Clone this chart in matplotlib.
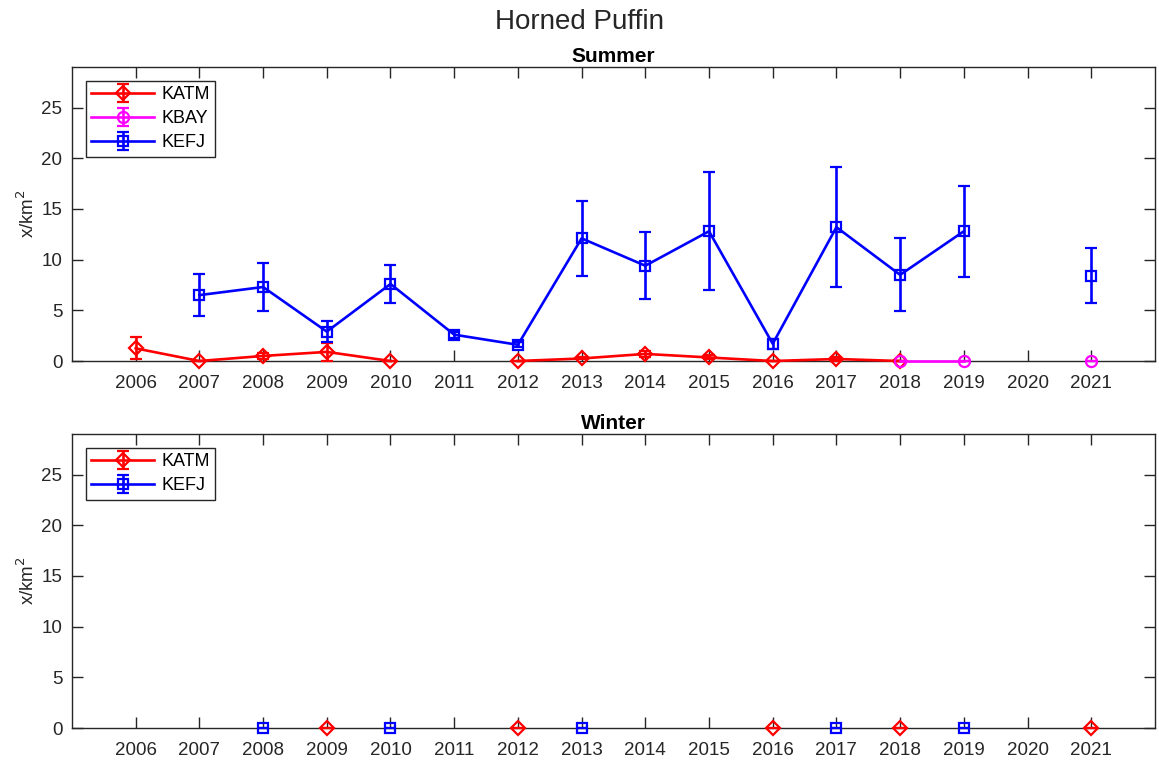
import numpy as np
import matplotlib
matplotlib.use("Agg")
import matplotlib.pyplot as plt

plt.rcParams['font.family'] = ['Liberation Sans', 'DejaVu Sans']

years = list(range(2006, 2022))
nan = np.nan

# Summer densities (birds per km^2) and standard errors
summer_katm = [1.25, 0.0, 0.5, 0.9, 0.0, nan, 0.0, 0.25, 0.7, 0.35, 0.0, 0.2, 0.0, nan, nan, nan]
summer_katm_err = [1.1, 0.0, 0.3, 0.85, 0.0, nan, 0.0, 0.1, 0.3, 0.2, 0.0, 0.15, 0.0, nan, nan, nan]
summer_kbay = [nan, nan, nan, nan, nan, nan, nan, nan, nan, nan, nan, nan, 0.0, 0.0, nan, 0.0]
summer_kbay_err = [nan, nan, nan, nan, nan, nan, nan, nan, nan, nan, nan, nan, 0.0, 0.0, nan, 0.0]
summer_kefj = [nan, 6.5, 7.3, 2.9, 7.6, 2.6, 1.6, 12.1, 9.4, 12.8, 1.7, 13.2, 8.5, 12.8, nan, 8.4]
summer_kefj_err = [nan, 2.05, 2.35, 1.0, 1.9, 0.3, 0.25, 3.7, 3.3, 5.8, 0.5, 5.9, 3.6, 4.5, nan, 2.7]

# Winter densities
winter_katm = [nan, nan, nan, 0.0, nan, nan, 0.0, nan, nan, nan, 0.0, nan, 0.0, nan, nan, 0.0]
winter_katm_err = [nan, nan, nan, 0.0, nan, nan, 0.0, nan, nan, nan, 0.0, nan, 0.0, nan, nan, 0.0]
winter_kefj = [nan, nan, 0.0, nan, 0.0, nan, nan, 0.0, nan, nan, nan, 0.0, nan, 0.0, nan, nan]
winter_kefj_err = [nan, nan, 0.0, nan, 0.0, nan, nan, 0.0, nan, nan, nan, 0.0, nan, 0.0, nan, nan]

styles = {
    'KATM': dict(color='#ff0000', marker='D', ms=7.5),
    'KBAY': dict(color='#ff00ff', marker='o', ms=8),
    'KEFJ': dict(color='#0000ff', marker='s', ms=7),
}

axis_gray = '#262626'

fig = plt.figure(figsize=(11.59, 7.66), dpi=100)
ax1 = fig.add_axes([0.0621, 0.5287, 0.9344, 0.3838])
ax2 = fig.add_axes([0.0621, 0.0496, 0.9344, 0.3838])


def draw(ax, name, vals, errs):
    st = styles[name]
    ax.errorbar(years, vals, yerr=errs, color=st['color'], lw=1.9,
                marker=st['marker'], ms=st['ms'], mfc='none', mec=st['color'],
                mew=1.6, elinewidth=1.9, capsize=4.5, capthick=1.9,
                label=name, clip_on=False, zorder=3)


draw(ax1, 'KATM', summer_katm, summer_katm_err)
draw(ax1, 'KBAY', summer_kbay, summer_kbay_err)
draw(ax1, 'KEFJ', summer_kefj, summer_kefj_err)

draw(ax2, 'KATM', winter_katm, winter_katm_err)
draw(ax2, 'KEFJ', winter_kefj, winter_kefj_err)

for ax, title in [(ax1, 'Summer'), (ax2, 'Winter')]:
    ax.set_xlim(2005, 2022)
    ax.set_ylim(0, 29)
    ax.set_xticks(years)
    ax.set_xticklabels([str(y) for y in years])
    ax.set_yticks([0, 5, 10, 15, 20, 25])
    ax.tick_params(direction='in', length=7.8, width=1.0, colors=axis_gray,
                   labelsize=13.5, top=True, right=True)
    ax.tick_params(axis='x', pad=10)
    ax.tick_params(axis='y', pad=7)
    for sp in ax.spines.values():
        sp.set_color(axis_gray)
        sp.set_linewidth(1.0)
    ax.set_ylabel('x/km$^2$', fontsize=13.5, color=axis_gray)
    ax.yaxis.set_label_coords(-0.031, 0.5)
    ax.set_title(title, fontsize=15, fontweight='bold', pad=3.5)
    leg = ax.legend(loc='upper left', fontsize=13, fancybox=False,
                    edgecolor=axis_gray, framealpha=1, borderaxespad=0.75,
                    handlelength=3.5, handletextpad=0.4, labelspacing=0.4,
                    borderpad=0.3)
    leg.get_frame().set_linewidth(1.0)

fig.suptitle('Horned Puffin', fontsize=20, y=0.988, color='#262626')

fig.savefig('out.png', dpi=100)
